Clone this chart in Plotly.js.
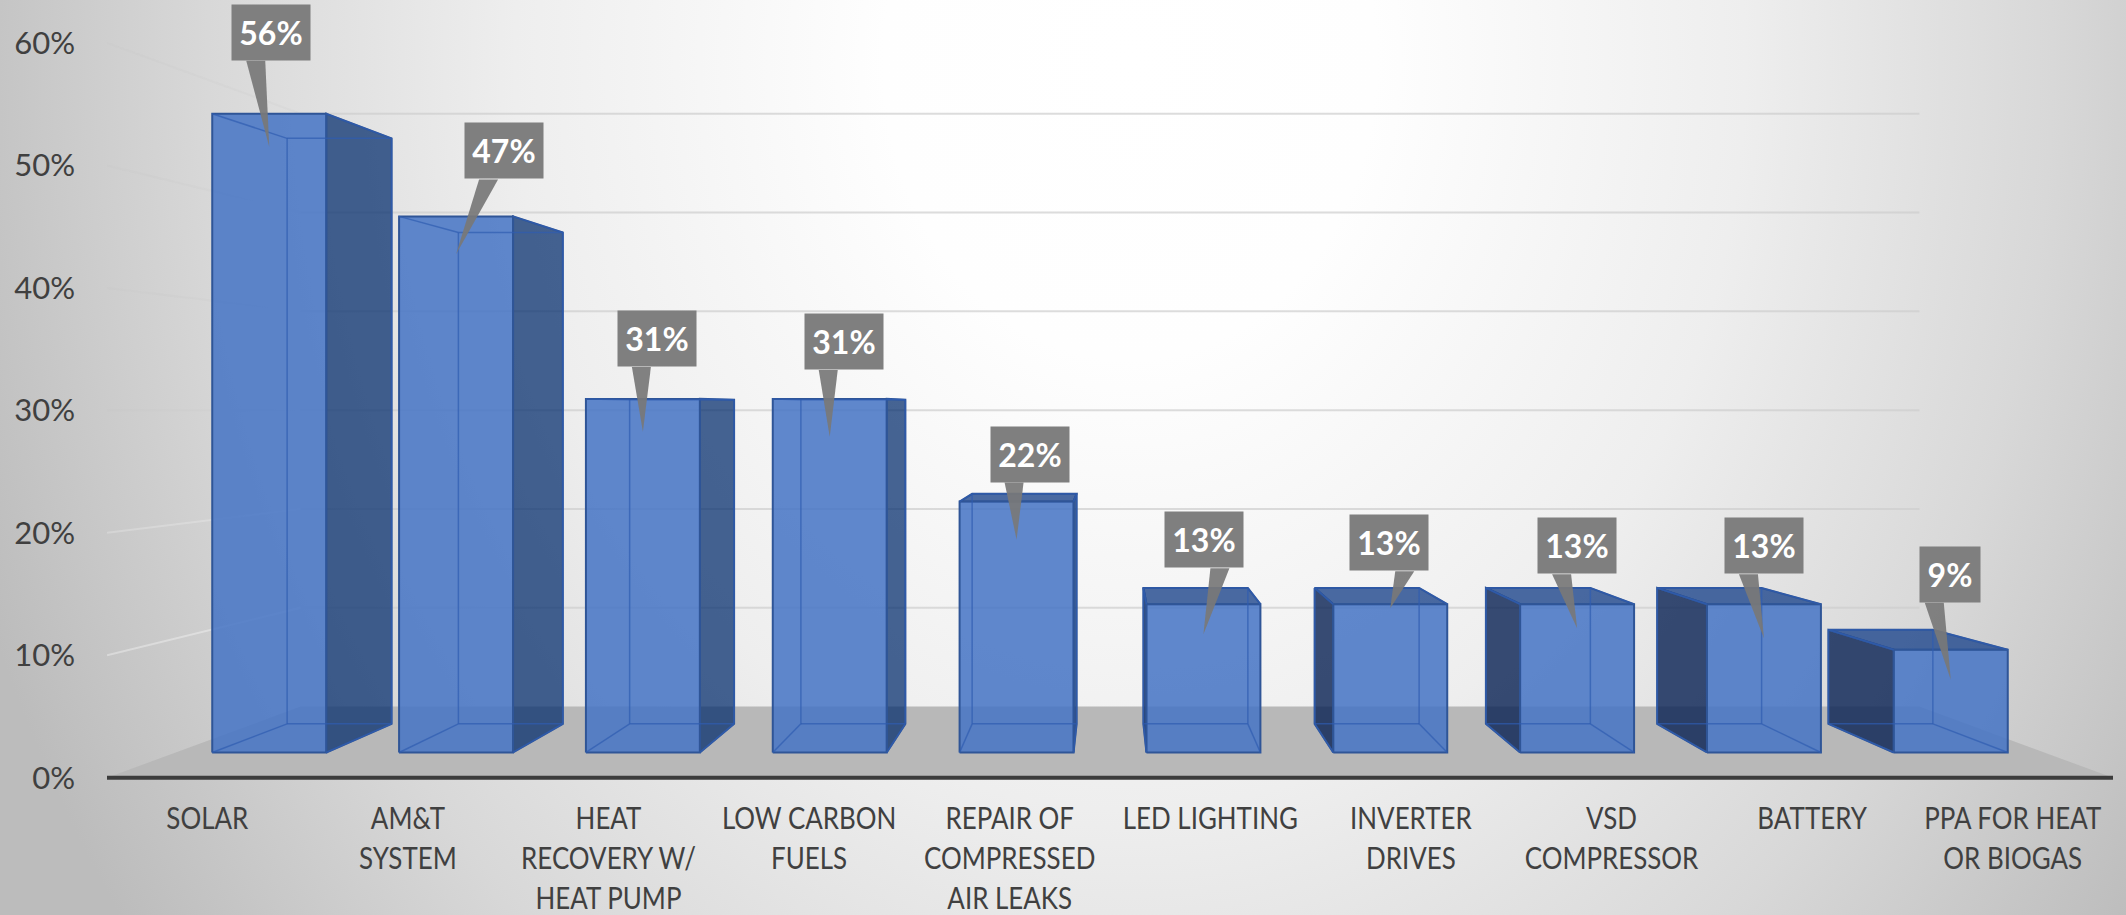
<!DOCTYPE html>
<html>
<head>
<meta charset="utf-8">
<title>Measures chart</title>
<script src="https://cdn.plot.ly/plotly-3.0.1.min.js"></script>
<style>
  html, body { margin: 0; padding: 0; width: 2126px; height: 915px; overflow: hidden; }
  body { background: radial-gradient(1230px 1500px at 1130px 60px, #ffffff 0%, #fefefe 20%, #eeeeee 50%, #d8d8d8 75%, #bcbcbc 100%); }
</style>
</head>
<body>
<div id="chart"></div>
<script>
// Share of respondents per measure
const categories = ["SOLAR", "AM&T<br>SYSTEM", "HEAT<br>RECOVERY W/<br>HEAT PUMP", "LOW CARBON<br>FUELS",
  "REPAIR OF<br>COMPRESSED<br>AIR LEAKS", "LED LIGHTING", "INVERTER<br>DRIVES", "VSD<br>COMPRESSOR",
  "BATTERY", "PPA FOR HEAT<br>OR BIOGAS"];
const shares = [56, 47, 31, 31, 22, 13, 13, 13, 13, 9];
const percentTicks = [0, 10, 20, 30, 40, 50, 60];

// Callout placement, in pixels relative to the top centre of each bar's front face
const boxShiftX = [2, 48, 14, 14, 13, 1, -1, 0, 0, -1];
const boxGap = [53, 37, 32, 29, 19, 36, 33, 30, 30, 47];
const tipDrop = [33, 38, 33, 38, 38, 30, 4, 24, 34, 30];
const tailSide = [-1, -1, -1, -1, -1, 1, 1, -1, -1, -1];

// Scales of the plot area
const PX_PER_CAT = 200.6, PX_PER_PCT = 12.25;

// Perspective of the box: everything recedes towards one vanishing point
const VANISH_X = 4.5, VANISH_Y = 30.1;
const DEPTH_WALL = 0.807, DEPTH_BAR_FRONT = 0.9314, DEPTH_BAR_BACK = 0.8537;
const BAR_HALF = 0.305;
const px = (cat, pct, depth) => VANISH_X + depth * (cat - VANISH_X);
const py = (cat, pct, depth) => VANISH_Y + depth * (pct - VANISH_Y);

function poly(points, fill, lineColor, lineWidth) {
  const closed = points.concat([points[0]]);
  return {
    type: "scatter", mode: "lines", hoverinfo: "skip", showlegend: false,
    x: closed.map(p => px(p[0], p[1], p[2])),
    y: closed.map(p => py(p[0], p[1], p[2])),
    fill: "toself", fillcolor: fill,
    line: lineColor ? { color: lineColor, width: lineWidth } : { width: 0 }
  };
}

function segments(list, color, width) {
  const x = [], y = [];
  list.forEach(s => {
    x.push(px(s[0][0], s[0][1], s[0][2]), px(s[1][0], s[1][1], s[1][2]), null);
    y.push(py(s[0][0], s[0][1], s[0][2]), py(s[1][0], s[1][1], s[1][2]), null);
  });
  return { type: "scatter", mode: "lines", hoverinfo: "skip", showlegend: false, x, y, line: { color, width } };
}

const traces = [];
const L = -0.5, R = 9.5;

// Floor and the baseline along its front edge
traces.push(poly([[L, 0, 1], [R, 0, 1], [R, 0, DEPTH_WALL], [L, 0, DEPTH_WALL]], "#b8b8b8"));
traces.push(segments([[[L, 0, 1], [R, 0, 1]]], "#3c3c3c", 4));

// Gridlines on the back wall, with their faint continuation along the left wall
percentTicks.slice(1).forEach(t => {
  traces.push(segments([[[L, t, DEPTH_WALL], [R, t, DEPTH_WALL]]], "rgba(205,205,205,0.7)", 2));
  traces.push(segments([[[L, t, 1], [L, t, DEPTH_WALL]]],
    t === 10 ? "rgba(255,255,255,0.35)" : t === 20 ? "rgba(255,255,255,0.22)" : "rgba(190,190,190,0.13)", 2));
});

// Bars as see-through boxes
const FRONT = DEPTH_BAR_FRONT, BACK = DEPTH_BAR_BACK;
shares.forEach((v, i) => {
  const a = i - BAR_HALF, b = i + BAR_HALF;
  const nearSide = i < VANISH_X ? b : a;
  const sideFill = i < VANISH_X ? "rgba(0,42,107,0.72)" : "rgba(8,32,82,0.8)";
  traces.push(poly([[nearSide, 0, FRONT], [nearSide, v, FRONT], [nearSide, v, BACK], [nearSide, 0, BACK]],
    sideFill, "#2f5597", 2));
  if (v < VANISH_Y) {
    traces.push(poly([[a, v, FRONT], [b, v, FRONT], [b, v, BACK], [a, v, BACK]],
      "rgba(30,70,140,0.8)", "#2f5597", 2));
  }
  traces.push(poly([[a, 0, FRONT], [b, 0, FRONT], [b, v, FRONT], [a, v, FRONT]],
    "rgba(70,116,197,0.86)", "#2f5597", 2));
  const inner = [
    [[a, 0, BACK], [b, 0, BACK]], [[a, v, BACK], [b, v, BACK]],
    [[a, 0, BACK], [a, v, BACK]], [[b, 0, BACK], [b, v, BACK]],
    [[a, 0, FRONT], [a, 0, BACK]], [[b, 0, FRONT], [b, 0, BACK]],
    [[a, v, FRONT], [a, v, BACK]], [[b, v, FRONT], [b, v, BACK]]
  ];
  traces.push(segments(inner, "rgba(47,92,176,0.7)", 1.5));
});

// Callout tails and their label boxes
const BOX_H = 55;
const annotations = [];
shares.forEach((v, i) => {
  const topX = px(i, v, FRONT), topY = py(i, v, FRONT);
  const boxX = topX + boxShiftX[i] / PX_PER_CAT;
  const boxBottom = topY + boxGap[i] / PX_PER_PCT;
  const tail0 = boxX + tailSide[i] * 25 / PX_PER_CAT, tail1 = boxX + tailSide[i] * 6 / PX_PER_CAT;
  const tipY = topY - tipDrop[i] / PX_PER_PCT;
  traces.push({
    type: "scatter", mode: "lines", hoverinfo: "skip", showlegend: false,
    x: [tail0, tail1, topX, tail0], y: [boxBottom, boxBottom, tipY, boxBottom],
    fill: "toself", fillcolor: "rgba(120,120,120,0.93)", line: { width: 0 }
  });
  annotations.push({
    x: boxX, y: boxBottom, xref: "x", yref: "y", xanchor: "center", yanchor: "bottom",
    text: "<b>" + v + "%</b>", showarrow: false, bgcolor: "#7f7f7f",
    width: v < 10 ? 60 : 78, height: BOX_H, borderpad: 0, align: "center", valign: "middle",
    font: { family: "Lato, sans-serif", size: 32, color: "#ffffff" }
  });
});

const layout = {
  width: 2126, height: 915, autosize: false,
  margin: { l: 107, r: 13, t: 0, b: 124.75, pad: 0 },
  paper_bgcolor: "rgba(0,0,0,0)", plot_bgcolor: "rgba(0,0,0,0)",
  showlegend: false, annotations,
  xaxis: {
    range: [L, R], tickmode: "array", tickvals: categories.map((c, i) => i), ticktext: categories,
    tickangle: 0, showgrid: false, zeroline: false, showline: false, ticks: "",
    ticklabelstandoff: 8,
    tickfont: { family: "Lato, sans-serif", size: 30.5, color: "#404040" }
  },
  yaxis: {
    range: [-1, 63.51], tickmode: "array", tickvals: percentTicks, ticktext: percentTicks.map(t => t + "%"),
    showgrid: false, zeroline: false, showline: false, ticks: "",
    ticklabelstandoff: 31,
    tickfont: { family: "Lato, sans-serif", size: 31, color: "#404040" }
  }
};

// Category labels are set condensed about their own centre
const LABEL_CONDENSE = 0.85;
Plotly.newPlot("chart", traces, layout, { displayModeBar: false, staticPlot: true }).then(gd => {
  gd.querySelectorAll(".xtick text").forEach(t => {
    const box = t.getBBox(), cx = box.x + box.width / 2;
    const prior = t.getAttribute("transform") || "";
    t.setAttribute("transform", `${prior} translate(${cx},0) scale(${LABEL_CONDENSE},1) translate(${-cx},0)`);
  });
});
</script>
</body>
</html>
